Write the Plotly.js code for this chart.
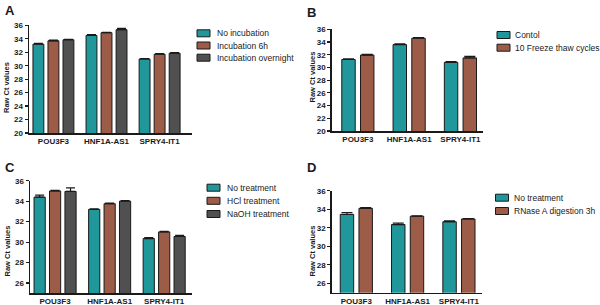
<!DOCTYPE html>
<html><head><meta charset="utf-8">
<script src="https://cdn.plot.ly/plotly-3.0.1.min.js"></script>
<style>html,body{margin:0;padding:0;background:#fff}</style>
</head><body><div id="chart" style="width:600px;height:305px"></div>
<script>
// ---------- data ----------
const genes = ["POU3F3", "HNF1A-AS1", "SPRY4-IT1"];

// Panel A
const aNames = ["No incubation", "Incubation 6h", "Incubation overnight"];
const aNoInc = [33.2, 34.5, 31.0];
const aNoIncErr = [0.1, 0.1, 0.05];
const aInc6h = [33.7, 34.9, 31.7];
const aInc6hErr = [0.1, 0.05, 0.1];
const aIncOvernight = [33.85, 35.35, 31.85];
const aIncOvernightErr = [0.05, 0.2, 0.1];

// Panel B
const bNames = ["Contol", "10 Freeze thaw cycles"];
const bControl = [31.25, 33.6, 30.8];
const bControlErr = [0.1, 0.1, 0.1];
const bFreeze = [31.95, 34.6, 31.5];
const bFreezeErr = [0.1, 0.1, 0.25];

// Panel C
const cNames = ["No treatment", "HCl treatment", "NaOH treatment"];
const cNoTreat = [34.4, 33.2, 30.35];
const cNoTreatErr = [0.2, 0.05, 0.1];
const cHCl = [35.0, 33.75, 31.0];
const cHClErr = [0.05, 0.05, 0.05];
const cNaOH = [34.95, 34.0, 30.55];
const cNaOHErr = [0.35, 0.05, 0.1];

// Panel D
const dNames = ["No treatment", "RNase A digestion 3h"];
const dNoTreat = [33.45, 32.35, 32.65];
const dNoTreatErr = [0.2, 0.15, 0.1];
const dRNase = [34.1, 33.25, 32.95];
const dRNaseErr = [0.08, 0.05, 0.03];

const yTitle = "Raw Ct values";
const panelLetters = ["A", "B", "C", "D"];

// ---------- styles ----------
const TEAL = "#1f979b", BROWN = "#9c5c47", GRAY = "#505050";
const INK = "#1a1a1a";
const FONT = "Liberation Sans, Arial, Helvetica, sans-serif";
const W = 600, H = 305;
const px = x => x / W;
const py = y => 1 - y / H;

function bars(xa, ya, names, series, errs, colors, width, slot, capw) {
  const n = series.length;
  return series.map((vals, i) => ({
    type: "bar", x: genes, y: vals, name: names[i],
    xaxis: xa, yaxis: ya, showlegend: false,
    width: width, offset: (i - (n - 1) / 2) * slot - width / 2,
    marker: { color: colors[i], line: { color: INK, width: 1 } },
    error_y: { type: "data", symmetric: false, array: errs[i],
      arrayminus: errs[i].map(() => 0), color: INK, thickness: 1.2, width: capw },
    hoverinfo: "skip"
  }));
}

const traces = [].concat(
  bars("x", "y", aNames, [aNoInc, aInc6h, aIncOvernight],
       [aNoIncErr, aInc6hErr, aIncOvernightErr], [TEAL, BROWN, GRAY], 0.205, 0.283, 4.5),
  bars("x2", "y2", bNames, [bControl, bFreeze],
       [bControlErr, bFreezeErr], [TEAL, BROWN], 0.262, 0.365, 5.5),
  bars("x3", "y3", cNames, [cNoTreat, cHCl, cNaOH],
       [cNoTreatErr, cHClErr, cNaOHErr], [TEAL, BROWN, GRAY], 0.205, 0.283, 4.5),
  bars("x4", "y4", dNames, [dNoTreat, dRNase],
       [dNoTreatErr, dRNaseErr], [TEAL, BROWN], 0.262, 0.365, 5.5)
);

function xax(domain, range) {
  return { domain: domain, range: range, type: "category", showline: true,
    linecolor: INK, linewidth: 1.5, ticks: "", showgrid: false, zeroline: false,
    tickfont: { family: FONT, size: 8, color: INK, weight: "bold" }, fixedrange: true };
}
function yax(domain, range, anchor) {
  return { domain: domain, range: range, anchor: anchor, dtick: 2, tick0: 0,
    showline: true, linecolor: INK, linewidth: 1.5, ticks: "outside", ticklen: 3,
    tickwidth: 1.2, tickcolor: INK, showgrid: false, zeroline: false,
    tickfont: { family: FONT, size: 8, color: INK, weight: "bold" }, fixedrange: true };
}

// panel frames in pixels
const panels = [
  { x0: 29, x1: 192, yTop: 25.3, yBot: 133, yr: [20, 36], xr: [-0.46, 2.61] },
  { x0: 331.7, x1: 483, yTop: 29.3, yBot: 131, yr: [20, 36], xr: [-0.51, 2.44] },
  { x0: 30, x1: 192, yTop: 180.7, yBot: 293.3, yr: [25, 36], xr: [-0.46, 2.51] },
  { x0: 331.7, x1: 482, yTop: 190.7, yBot: 292.7, yr: [25, 36], xr: [-0.48, 2.45] }
];
const layout = {
  width: W, height: H, margin: { l: 0, r: 0, t: 0, b: 0 },
  paper_bgcolor: "#fff", plot_bgcolor: "#fff", showlegend: false,
  font: { family: FONT, color: INK },
  annotations: [], shapes: []
};
panels.forEach((p, i) => {
  const s = i === 0 ? "" : String(i + 1);
  layout["xaxis" + s] = xax([px(p.x0), px(p.x1)], p.xr);
  layout["xaxis" + s].anchor = "y" + s;
  layout["yaxis" + s] = yax([py(p.yBot), py(p.yTop)], p.yr, "x" + s);
});

// panel letters
const letterPos = [[3, 1], [305, 3], [3, 158], [305, 158]];
panelLetters.forEach((t, i) => layout.annotations.push({
  text: t, xref: "paper", yref: "paper", x: px(letterPos[i][0]), y: py(letterPos[i][1]),
  xanchor: "left", yanchor: "top", showarrow: false,
  font: { family: FONT, size: 13, weight: "bold", color: INK }
}));

// y titles
const yTitlePos = [[6.5, 87.5], [312, 77.5], [6.5, 251], [312, 251.5]];
yTitlePos.forEach(p => layout.annotations.push({
  text: yTitle, xref: "paper", yref: "paper", x: px(p[0]), y: py(p[1]),
  xanchor: "center", yanchor: "middle", textangle: -90, showarrow: false,
  font: { family: FONT, size: 7.5, weight: "bold", color: INK }
}));

// legends (key swatch + label)
const legends = [
  { names: aNames, colors: [TEAL, BROWN, GRAY], sx: 197, tx: 215, rows: [33.3, 45.5, 57.7] },
  { names: bNames, colors: [TEAL, BROWN], sx: 497, tx: 513, rows: [35, 47.7] },
  { names: cNames, colors: [TEAL, BROWN, GRAY], sx: 207, tx: 225, rows: [187.7, 200.8, 214] },
  { names: dNames, colors: [TEAL, BROWN], sx: 495.5, tx: 512, rows: [197.7, 211] }
];
legends.forEach(L => L.names.forEach((nm, j) => {
  const r = L.rows[j];
  layout.shapes.push({ type: "rect", xref: "paper", yref: "paper",
    x0: px(L.sx), x1: px(L.sx + 13), y0: py(r + 3.5), y1: py(r - 3.5),
    fillcolor: L.colors[j], line: { color: INK, width: 1 } });
  layout.annotations.push({ text: nm, xref: "paper", yref: "paper",
    x: px(L.tx), y: py(r), xanchor: "left", yanchor: "middle", showarrow: false,
    font: { family: FONT, size: 8.5, color: INK } });
}));

Plotly.newPlot("chart", traces, layout, { staticPlot: true, displayModeBar: false });
</script>
</body></html>
